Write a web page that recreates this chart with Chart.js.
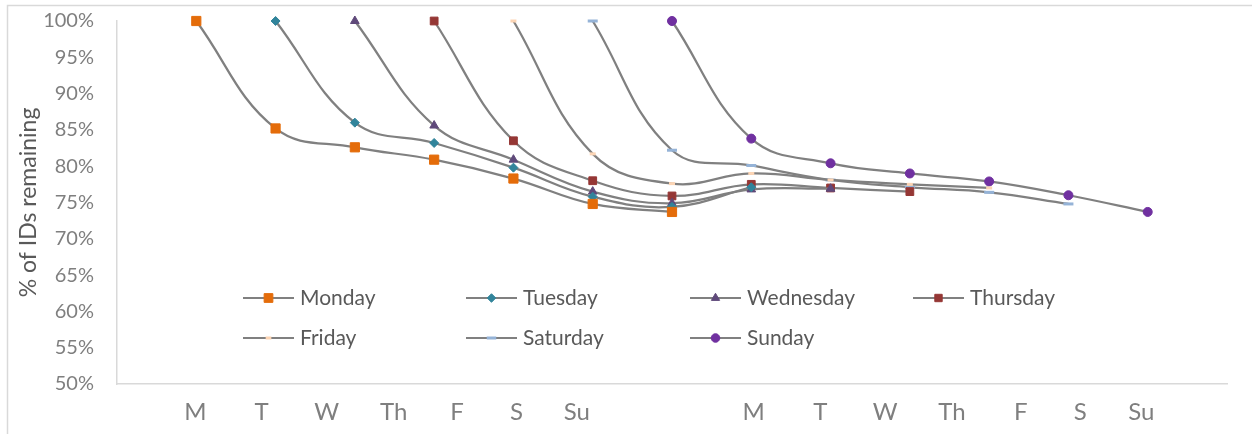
<!DOCTYPE html>
<html>
<head>
<meta charset="utf-8">
<script src="https://cdn.jsdelivr.net/npm/chart.js@4.4.1/dist/chart.umd.min.js"></script>
<style>
  html, body { margin: 0; padding: 0; background: #ffffff; }
  #wrap { width: 1252px; height: 434px; position: relative; }
</style>
</head>
<body>
<div id="wrap"><canvas id="c" width="1252" height="434"></canvas></div>
<script>
// Day-of-week labels along the bottom and where they sit on the x scale
const dayLabels = ['M', 'T', 'W', 'Th', 'F', 'S', 'Su', 'M', 'T', 'W', 'Th', 'F', 'S', 'Su'];
const dayTickPositions = [0.99, 1.825, 2.645, 3.49, 4.29, 5.04, 5.80, 8.03, 8.87, 9.69, 10.53, 11.40, 12.15, 12.92];

// Cohort names and the first day index of each cohort
const cohortNames = ['Monday', 'Tuesday', 'Wednesday', 'Thursday', 'Friday', 'Saturday', 'Sunday'];
const cohortStart = [1, 2, 3, 4, 5, 6, 7];

// % of IDs remaining, one value per day since the cohort started
const monday    = [100, 85.2, 82.6, 80.9, 78.3, 74.8, 73.7];
const tuesday   = [100, 86.0, 83.2, 79.8, 75.8, 74.4, 77.1];
const wednesday = [100, 85.6, 80.9, 76.5, 74.9, 76.8, 76.9];
const thursday  = [100, 83.5, 78.0, 75.9, 77.5, 77.0, 76.5];
const friday    = [100, 81.7, 77.6, 79.0, 78.1, 77.5, 77.0];
const saturday  = [100, 82.2, 80.1, 78.1, 77.1, 76.4, 74.8];
const sunday    = [100, 83.8, 80.4, 79.0, 77.9, 76.0, 73.7];

const cohortValues = [monday, tuesday, wednesday, thursday, friday, saturday, sunday];

// Marker styling per cohort
const markerColors = ['#E46C0A', '#31849B', '#5F497A', '#953735', '#FCD5B5', '#95B3D7', '#7030A0'];
const markerStyles = ['rect', 'rectRot', 'triangle', 'rect', 'line', 'line', 'circle'];
const markerRadius = [6.5, 4.5, 5, 5.5, 3, 5, 4.5];
const markerBorder = [1, 1, 1, 1, 3, 3, 1];

const FONT = 'Lato, "Open Sans", "DejaVu Sans", sans-serif';
const LINE_GREY = '#808080';

const datasets = cohortValues.map((vals, k) => ({
  label: cohortNames[k],
  data: vals.map((v, i) => ({ x: cohortStart[k] + i, y: v })),
  borderColor: LINE_GREY,
  borderWidth: 2.25,
  tension: 0.4,
  fill: false,
  clip: false,
  pointStyle: markerStyles[k],
  pointRadius: markerRadius[k],
  pointBorderWidth: markerBorder[k],
  pointBackgroundColor: markerColors[k],
  pointBorderColor: markerColors[k],
  pointHoverRadius: markerRadius[k]
}));

// Light frame around the whole figure
const framePlugin = {
  id: 'frame',
  beforeDraw(chart) {
    const ctx = chart.ctx;
    ctx.save();
    ctx.fillStyle = '#ffffff';
    ctx.fillRect(0, 0, chart.width, chart.height);
    ctx.strokeStyle = '#d9d9d9';
    ctx.lineWidth = 1.5;
    ctx.strokeRect(7.5, 5.5, chart.width + 20, chart.height + 20);
    ctx.restore();
  }
};

// Legend drawn inside the plot area: line sample with marker, then the name
const insideLegend = {
  id: 'insideLegend',
  afterDatasetsDraw(chart) {
    const ctx = chart.ctx;
    const colX = [243, 466, 690, 913];
    const rowY = [298, 338];
    const sampleLen = 51;
    ctx.save();
    chart.data.datasets.forEach((ds, k) => {
      const x0 = colX[k % 4];
      const y = rowY[Math.floor(k / 4)];
      ctx.strokeStyle = LINE_GREY;
      ctx.lineWidth = 2;
      ctx.beginPath();
      ctx.moveTo(x0, y);
      ctx.lineTo(x0 + sampleLen, y);
      ctx.stroke();
      ctx.fillStyle = ds.pointBackgroundColor;
      ctx.strokeStyle = ds.pointBorderColor;
      ctx.lineWidth = ds.pointBorderWidth;
      Chart.helpers.drawPoint(ctx, {
        pointStyle: ds.pointStyle,
        radius: ds.pointRadius * 0.95,
        borderWidth: ds.pointBorderWidth,
        rotation: 0
      }, x0 + sampleLen / 2, y);
      ctx.fillStyle = '#595959';
      ctx.font = '21px ' + FONT;
      ctx.textBaseline = 'middle';
      ctx.textAlign = 'left';
      ctx.fillText(ds.label, x0 + 57, y);
    });
    ctx.restore();
  }
};

new Chart(document.getElementById('c'), {
  type: 'line',
  data: { datasets },
  options: {
    responsive: false,
    animation: false,
    events: [],
    layout: { padding: { left: 0, right: 25, top: 21, bottom: 0 } },
    plugins: {
      legend: { display: false },
      tooltip: { enabled: false }
    },
    scales: {
      x: {
        type: 'linear',
        min: 0,
        max: 14,
        grid: { display: false, drawTicks: false },
        border: { display: true, color: '#d9d9d9', width: 1.5 },
        afterBuildTicks(axis) {
          axis.ticks = dayTickPositions.map(v => ({ value: v }));
        },
        afterFit(axis) {
          axis.height = 50;
          axis.paddingLeft = 0;
          axis.paddingRight = 0;
        },
        ticks: {
          autoSkip: false,
          maxRotation: 0,
          padding: 14,
          color: '#7f7f7f',
          font: { family: FONT, size: 24 },
          callback: (value, index) => dayLabels[index]
        }
      },
      y: {
        min: 50,
        max: 100,
        grid: { display: false, drawTicks: false },
        border: { display: true, color: '#d9d9d9', width: 1.5 },
        afterFit(axis) {
          axis.width = 117;
          axis.paddingTop = 0;
          axis.paddingBottom = 0;
        },
        ticks: {
          stepSize: 5,
          padding: 23,
          color: '#7f7f7f',
          font: { family: FONT, size: 20 },
          callback: v => v + '%'
        },
        title: {
          display: true,
          text: '% of IDs remaining',
          color: '#595959',
          font: { family: FONT, size: 23 },
          padding: { top: 15, bottom: 0 }
        }
      }
    }
  },
  plugins: [framePlugin, insideLegend]
});
</script>
</body>
</html>
